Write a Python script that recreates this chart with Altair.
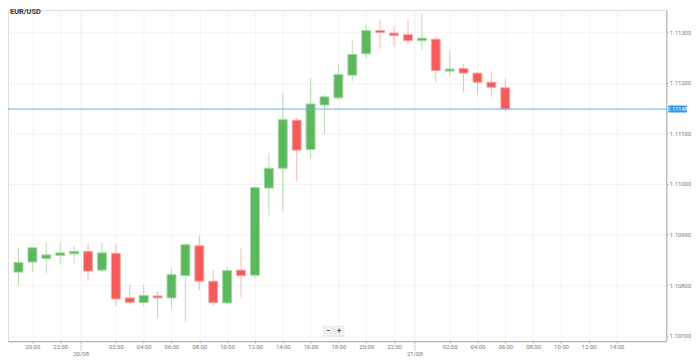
import altair as alt
import pandas as pd

# ---- data ----
times = ["19/08 19:00", "19/08 20:00", "19/08 21:00", "19/08 22:00", "19/08 23:00",
         "20/08 00:00", "20/08 01:00", "20/08 02:00", "20/08 03:00", "20/08 04:00",
         "20/08 05:00", "20/08 06:00", "20/08 07:00", "20/08 08:00", "20/08 09:00",
         "20/08 10:00", "20/08 11:00", "20/08 12:00", "20/08 13:00", "20/08 14:00",
         "20/08 15:00", "20/08 16:00", "20/08 17:00", "20/08 18:00", "20/08 19:00",
         "20/08 20:00", "20/08 21:00", "20/08 22:00", "20/08 23:00", "21/08 00:00",
         "21/08 01:00", "21/08 02:00", "21/08 03:00", "21/08 04:00", "21/08 05:00",
         "21/08 06:00"]
opens = [1.10826, 1.10846, 1.10853, 1.10859, 1.10862, 1.10867, 1.10830, 1.10863, 1.10775, 1.10766,
         1.10779, 1.10775, 1.10819, 1.10878, 1.10808, 1.10765, 1.10830, 1.10820, 1.10992, 1.11031,
         1.11126, 1.11068, 1.11156, 1.11170, 1.11215, 1.11257, 1.11303, 1.11298, 1.11295, 1.11283,
         1.11286, 1.11223, 1.11228, 1.11219, 1.11201, 1.11190]
highs = [1.10873, 1.10875, 1.10885, 1.10887, 1.10878, 1.10883, 1.10885, 1.10881, 1.10801, 1.10801,
         1.10788, 1.10832, 1.10882, 1.10898, 1.10830, 1.10837, 1.10874, 1.10996, 1.11061, 1.11179,
         1.11131, 1.11209, 1.11177, 1.11236, 1.11284, 1.11315, 1.11325, 1.11312, 1.11325, 1.11336,
         1.11291, 1.11263, 1.11237, 1.11223, 1.11221, 1.11208]
lows = [1.10800, 1.10826, 1.10824, 1.10841, 1.10843, 1.10809, 1.10827, 1.10760, 1.10762, 1.10759,
        1.10736, 1.10754, 1.10728, 1.10789, 1.10759, 1.10764, 1.10776, 1.10814, 1.10938, 1.10946,
        1.11006, 1.11050, 1.11099, 1.11167, 1.11203, 1.11248, 1.11267, 1.11271, 1.11276, 1.11264,
        1.11201, 1.11213, 1.11182, 1.11176, 1.11172, 1.11143]
closes = [1.10845, 1.10874, 1.10860, 1.10864, 1.10867, 1.10828, 1.10864, 1.10773, 1.10766, 1.10780,
          1.10775, 1.10821, 1.10880, 1.10808, 1.10766, 1.10829, 1.10819, 1.10993, 1.11031, 1.11127,
          1.11067, 1.11158, 1.11172, 1.11216, 1.11256, 1.11303, 1.11299, 1.11293, 1.11283, 1.11288,
          1.11224, 1.11227, 1.11219, 1.11201, 1.11191, 1.11148]
y_ticks = [1.107, 1.108, 1.109, 1.110, 1.111, 1.112, 1.113]
x_ticks = [20, 22, 26, 28, 30, 32, 34, 36, 38, 40, 42, 44, 46, 50, 52, 54, 56, 58, 60, 62]
day_labels = ["20/08", "21/08"]
day_breaks = [23.5, 47.5]
symbol = "EUR/USD"
current_price = 1.11148

GREEN = "#5cb85c"
RED = "#f45b5b"
BLUE = "#5db6f0"

W, H = 666, 335


def to_hours(t):
    d, hm = t.split(" ")
    day = int(d.split("/")[0])
    return (day - 19) * 24 + int(hm.split(":")[0])


df = pd.DataFrame({
    "time": times,
    "h": [to_hours(t) for t in times],
    "open": opens, "high": highs, "low": lows, "close": closes,
})
df["dir"] = ["up" if c >= o else "down" for o, c in zip(opens, closes)]

days = pd.DataFrame({"pos": day_breaks, "label": day_labels})
price_df = pd.DataFrame({"price": [current_price]})

xscale = alt.Scale(domain=[18.6, 65.22], nice=False, zero=False)
yscale = alt.Scale(domain=[1.106896, 1.113435], nice=False, zero=False)
cscale = alt.Scale(domain=["up", "down"], range=[GREEN, RED])
sscale = alt.Scale(domain=["up", "down"], range=["#9fd89f", "#f9a3a3"])

base = alt.Chart(df)

x_enc = alt.X("h:Q", scale=xscale,
              axis=alt.Axis(values=x_ticks, tickCount=60, orient="bottom",
                            labelExpr="(datum.value % 24 < 10 ? '0' : '') + (datum.value % 24) + ':00'",
                            labelFontSize=6, labelColor="#777", labelFont="Roboto",
                            labelOverlap=False, labelPadding=0, tickSize=2, tickColor="#bbb",
                            domainColor="#aaa", gridColor="#f3f3f3", title=None))
y_enc = alt.Y("low:Q", scale=yscale,
              axis=alt.Axis(values=y_ticks, tickCount=20, orient="right", format=".5f",
                            labelFontSize=6, labelColor="#777", labelFont="Roboto",
                            labelOverlap=False, labelPadding=1, tickSize=2, tickColor="#bbb",
                            domainColor="#aaa", gridColor="#f3f3f3", title=None))

wicks = base.mark_rule(strokeWidth=1, opacity=0.45).encode(
    x=x_enc, y=y_enc, y2="high:Q",
    color=alt.Color("dir:N", scale=cscale, legend=None),
)

bodies = base.mark_bar(size=9, strokeWidth=1).encode(
    x=alt.X("h:Q", scale=xscale),
    y=alt.Y("open:Q", scale=yscale),
    y2="close:Q",
    color=alt.Color("dir:N", scale=cscale, legend=None),
    stroke=alt.Stroke("dir:N", scale=sscale, legend=None),
)

sep_grid = alt.Chart(days).mark_rule(color="#ececec", strokeWidth=1).encode(
    x=alt.X("pos:Q", scale=xscale), y=alt.value(0), y2=alt.value(H))
sep_tick = alt.Chart(days).mark_rule(color="#999", strokeWidth=1, strokeDash=[1, 1]).encode(
    x=alt.X("pos:Q", scale=xscale), y=alt.value(H), y2=alt.value(H + 9))
sep_text = alt.Chart(days).mark_text(fontSize=6, color="#777", font="Roboto", baseline="middle").encode(
    x=alt.X("pos:Q", scale=xscale), y=alt.value(H + 12.5), text="label:N")

price_line = alt.Chart(price_df).mark_rule(color=BLUE, strokeWidth=1).encode(
    y=alt.Y("price:Q", scale=yscale), x=alt.value(0), x2=alt.value(W))
price_box = alt.Chart(price_df).transform_calculate(
    top="datum.price + 0.00007", bot="datum.price - 0.00007"
).mark_rect(color="#2f9ae8", cornerRadius=1).encode(
    y=alt.Y("top:Q", scale=yscale), y2="bot:Q", x=alt.value(W + 2), x2=alt.value(W + 21))
price_text = alt.Chart(price_df).mark_text(fontSize=5.5, color="white", font="Roboto",
                                           baseline="middle", align="center").encode(
    y=alt.Y("price:Q", scale=yscale), x=alt.value(W + 11.5), text=alt.Text("price:Q", format=".5f"))

title = alt.Chart(pd.DataFrame({"t": [symbol]})).mark_text(
    fontSize=7.5, fontWeight="bold", color="#333", font="Roboto", align="left", baseline="middle"
).encode(x=alt.value(2), y=alt.value(2.5), text="t:N")

btn_df = pd.DataFrame({"b": ["\u2212", "+"], "x0": [319, 330], "x1": [329, 340]})
buttons = alt.Chart(btn_df).mark_rect(fill="#f2f2f2", stroke="#d8d8d8", strokeWidth=0.5).encode(
    x=alt.X("x0:Q", scale=None), x2="x1:Q", y=alt.value(320), y2=alt.value(330))
btn_text = alt.Chart(btn_df).transform_calculate(xc="(datum.x0 + datum.x1) / 2").mark_text(
    fontSize=8, color="#555", font="Roboto", baseline="middle", fontWeight="bold"
).encode(x=alt.X("xc:Q", scale=None), y=alt.value(325), text="b:N")

chart = alt.layer(
    wicks, sep_grid, bodies, price_line, sep_tick, sep_text,
    price_box, price_text, title, buttons, btn_text
).properties(
    width=W, height=H,
    autosize=alt.AutoSizeParams(type="none"),
    padding={"left": 0, "top": 0, "right": 25, "bottom": 19},
).configure_view(strokeWidth=0).configure(background="white")

chart.save("out.html", embed_options={"renderer": "svg", "actions": False})
